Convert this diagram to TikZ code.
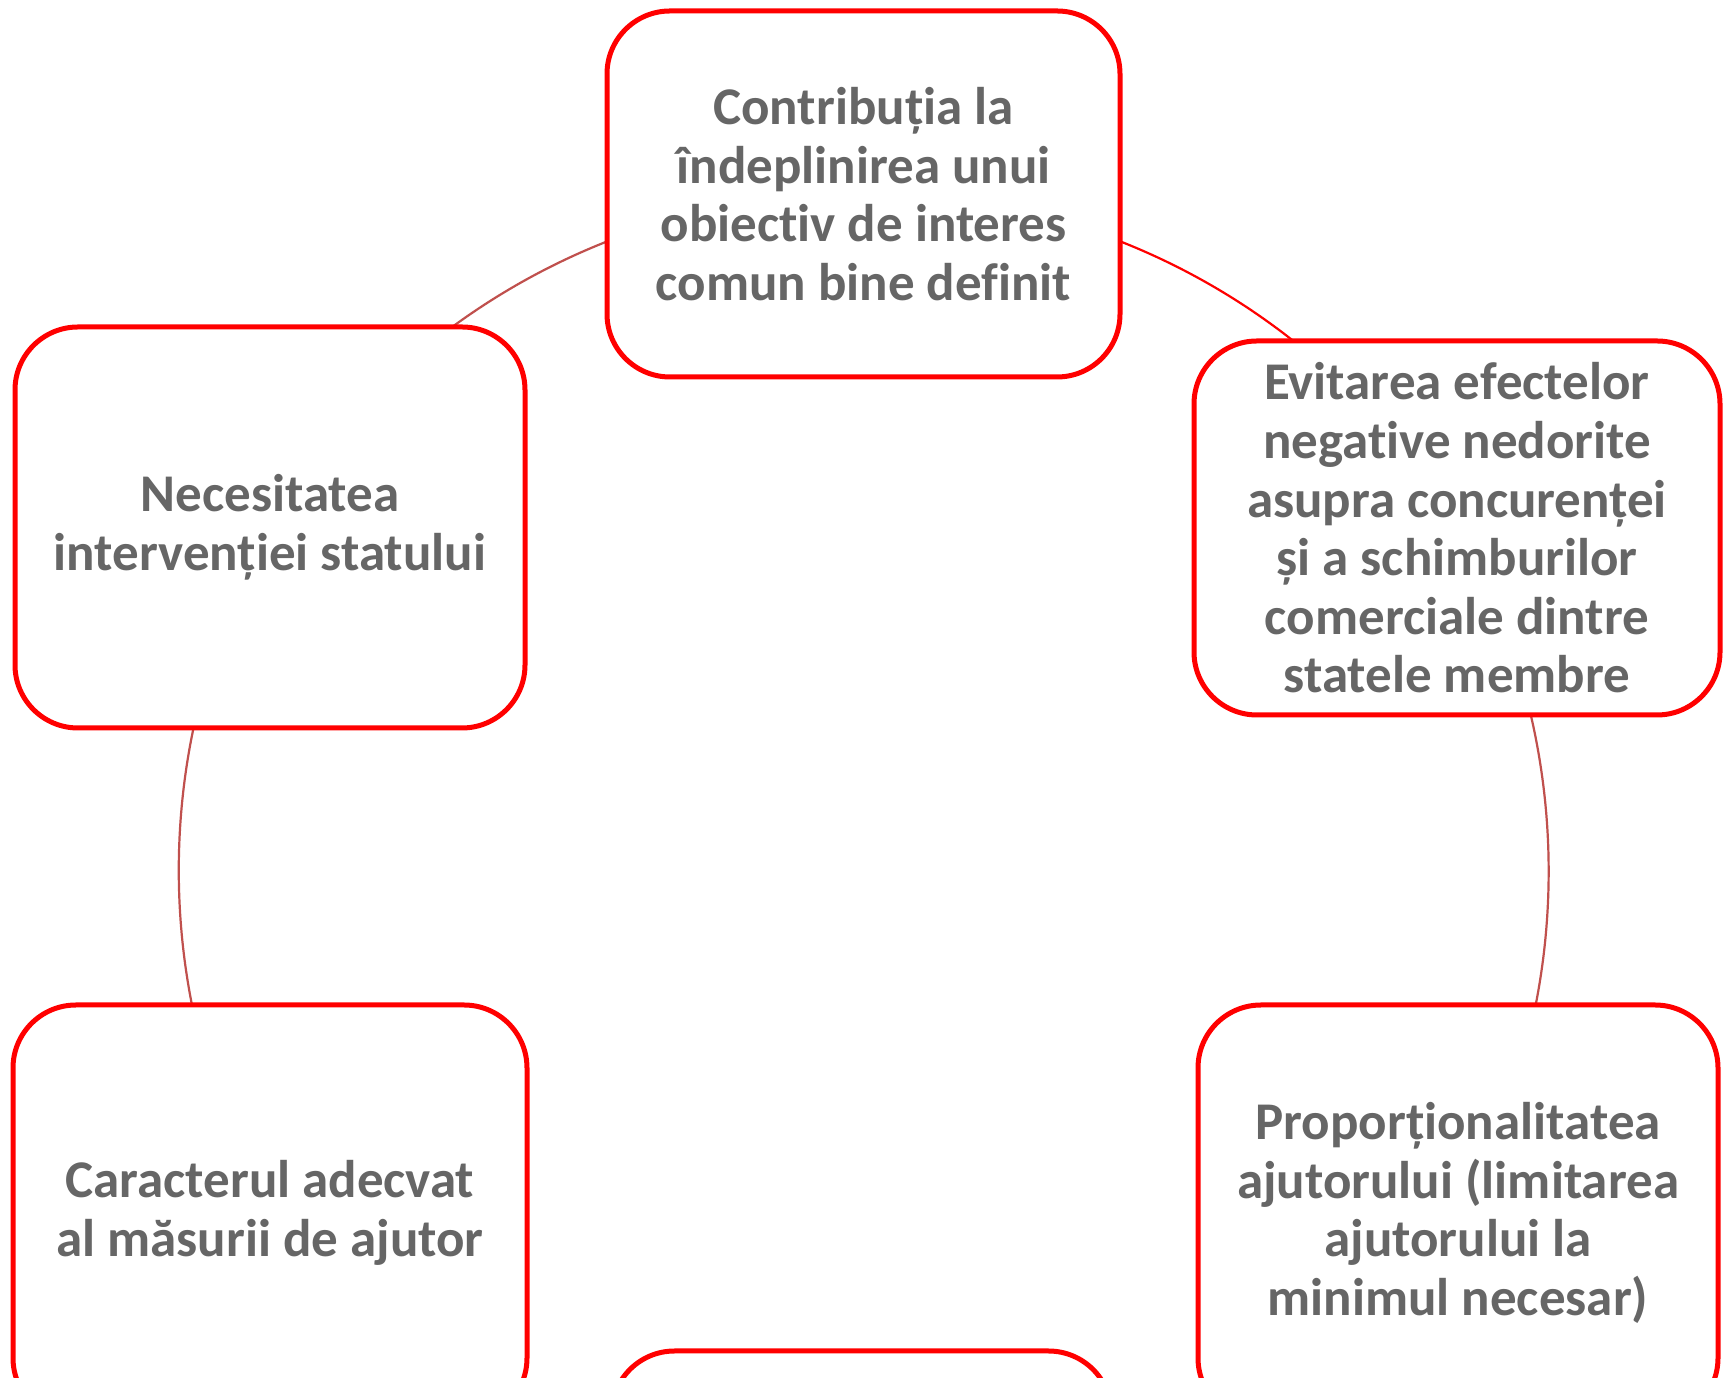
\documentclass[tikz,border=0pt]{standalone}
\usepackage{fontspec}
\setmainfont{Carlito}[Ligatures={NoCommon,NoContextual}]
\usetikzlibrary{backgrounds}
\definecolor{boxred}{RGB}{255,0,0}
\definecolor{linkbrown}{RGB}{192,80,77}
\definecolor{txtgray}{RGB}{102,102,102}
\begin{document}
\begin{tikzpicture}[x=1pt,y=1pt,
  card/.style={draw=boxred, line width=5pt, fill=white, rounded corners=63pt,
    inner sep=0pt, align=center, text=txtgray,
    font=\fontsize{53}{58.6}\selectfont\bfseries},
  link/.style={line width=2.2pt, draw=linkbrown, bend left=30, looseness=0.91}]
\useasboundingbox (0,0) rectangle (1724,1378);
\node[card, minimum width=513pt, minimum height=366pt] (top) at (863.5,1184)
  {Contribuția la\\îndeplinirea unui\\obiect\kern0pt iv de interes\\comun bine def\kern0pt init};
\node[card, minimum width=510pt, minimum height=401pt] (nec) at (270,850.5)
  {Necesitatea\\intervenției statului};
\node[card, minimum width=526pt, minimum height=374pt] (evit) at (1457,850)
  {Evitarea efectelor\\negat\kern0pt ive nedorite\\asupra concurenței\\și a schimburilor\\comerciale dintre\\statele membre};
\node[card, minimum width=514pt, minimum height=416pt] (car) at (270,165)
  {Caracterul adecvat\\al măsurii de ajutor};
\node[card, minimum width=520pt, minimum height=416pt] (prop) at (1458,165)
  {Proporționalitatea\\ajutorului (limitarea\\ajutorului la\\minimul necesar)};
\node[card, minimum width=500pt, minimum height=380pt] (bot) at (861.5,-163) {};
\begin{scope}[on background layer]
  \fill[white] (0,0) rectangle (1724,1378);
  \draw[link] (nec.center) to (top.center);
  \draw[link, draw=boxred] (top.center) to (evit.center);
  \draw[link] (evit.center) to (prop.center);
  \draw[link] (car.center) to (nec.center);
\end{scope}
\end{tikzpicture}
\end{document}
